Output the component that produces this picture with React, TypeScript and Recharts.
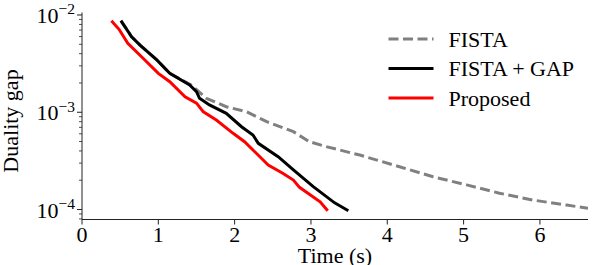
import { LineChart, Line, XAxis, YAxis, Legend } from "recharts";

// Time (s) / duality gap
const fistaTime = [0.51, 0.65, 0.76, 0.98, 1.15, 1.43, 1.63, 1.89, 2.16, 2.42, 2.77, 2.98, 3.2, 3.64, 4.16, 4.6, 5.04, 5.47, 5.91, 6.35, 6.63];
const fistaGap = [8.7e-3, 5.98e-3, 4.91e-3, 3.45e-3, 2.51e-3, 1.91e-3, 1.39e-3, 1.14e-3, 1.01e-3, 8.0e-4, 6.31e-4, 4.98e-4, 4.43e-4, 3.63e-4, 2.75e-4, 2.17e-4, 1.79e-4, 1.47e-4, 1.25e-4, 1.11e-4, 1.03e-4];

const gapTime = [0.51, 0.65, 0.76, 0.98, 1.15, 1.41, 1.5, 1.54, 1.67, 1.89, 2.09, 2.24, 2.31, 2.57, 2.77, 3.03, 3.31, 3.49];
const gapGap = [8.74e-3, 5.98e-3, 4.91e-3, 3.45e-3, 2.51e-3, 1.91e-3, 1.63e-3, 1.39e-3, 1.19e-3, 9.75e-4, 7.1e-4, 5.84e-4, 4.79e-4, 3.49e-4, 2.55e-4, 1.72e-4, 1.17e-4, 9.72e-5];

const propTime = [0.385, 0.485, 0.6, 0.8, 1.0, 1.15, 1.35, 1.5, 1.59, 1.76, 1.98, 2.13, 2.24, 2.33, 2.44, 2.63, 2.77, 2.85, 3.12, 3.22];
const propGap = [8.74e-3, 7.13e-3, 5.12e-3, 3.59e-3, 2.51e-3, 2.06e-3, 1.44e-3, 1.24e-3, 1.01e-3, 8.32e-4, 6.07e-4, 4.98e-4, 4.09e-4, 3.49e-4, 2.87e-4, 2.36e-4, 2.01e-4, 1.69e-4, 1.2e-4, 9.72e-5];

const xTicks = [0, 1, 2, 3, 4, 5, 6];
const xMax = 6.63;
const yDomain = [Math.pow(10, -4.1028), Math.pow(10, -1.9743)];
const decades = [-5, -4, -3, -2];

const yTicks: number[] = [];
decades.forEach((e) => {
  for (let m = 1; m <= 9; m++) {
    const v = m * Math.pow(10, e);
    if (v >= yDomain[0] && v <= yDomain[1]) yTicks.push(v);
  }
});

const toRows = (t: number[], g: number[]) => t.map((x, i) => ({ t: x, gap: g[i] }));
const fistaRows = toRows(fistaTime, fistaGap);
const gapRows = toRows(gapTime, gapGap);
const propRows = toRows(propTime, propGap);

const txt = { fontFamily: '"Liberation Serif", "Times New Roman", serif', fontSize: 22, fill: "#000" };
const AXIS = "#222";

const YTick = (props: any) => {
  const { x, y, payload } = props;
  const lg = Math.log10(payload.value);
  const major = Math.abs(lg - Math.round(lg)) < 1e-6;
  if (!major) {
    return <line x1={x - 3} x2={x} y1={y} y2={y} stroke={AXIS} strokeWidth={0.8} />;
  }
  return (
    <g>
      <line x1={x - 5} x2={x} y1={y} y2={y} stroke={AXIS} strokeWidth={1} />
      <text x={x - 7} y={y + 8} textAnchor="end" style={txt}>
        <tspan>10</tspan>
        <tspan dy={-8.5} style={{ fontSize: 15.5 }}>{"\u2212" + Math.abs(Math.round(lg))}</tspan>
      </text>
    </g>
  );
};

const XTick = (props: any) => {
  const { x, y, payload } = props;
  return (
    <g>
      <line x1={x} x2={x} y1={y} y2={y + 5} stroke={AXIS} strokeWidth={1} />
      <text x={x} y={y + 22} textAnchor="middle" style={txt}>
        {payload.value}
      </text>
    </g>
  );
};

const LegendBox = (props: any) => {
  const { payload } = props;
  return (
    <svg width={598} height={265} style={{ position: "absolute", left: 0, top: 0, pointerEvents: "none" }}>
      {(payload || []).map((entry: any, i: number) => {
        const cy = 39 + i * 29.5;
        return (
          <g key={entry.value}>
            <line
              x1={388.5}
              x2={433.5}
              y1={cy}
              y2={cy}
              stroke={entry.color}
              strokeWidth={3}
              strokeDasharray={entry.payload?.strokeDasharray}
            />
            <text x={448.5} y={cy + 7.5} style={txt}>
              {entry.value}
            </text>
          </g>
        );
      })}
    </svg>
  );
};

export default function App() {
  return (
    <div style={{ position: "absolute", left: 0, top: 0, background: "#fff" }}>
      <LineChart width={598} height={265} margin={{ top: 12.5, right: 10, bottom: 0, left: 0 }}>
        <XAxis
          dataKey="t"
          type="number"
          domain={[0, xMax]}
          ticks={xTicks}
          allowDataOverflow
          height={45.5}
          tickSize={0}
          tickMargin={0}
          tick={<XTick />}
          axisLine={{ stroke: AXIS, strokeWidth: 1 }}
          tickLine={false}
          label={{
            content: (p: any) => {
              const vb = p.viewBox;
              return (
                <text x={vb.x + vb.width / 2} y={vb.y + 43.5} textAnchor="middle" style={txt}>
                  Time (s)
                </text>
              );
            },
          }}
        />
        <XAxis xAxisId="top" orientation="top" type="number" domain={[0, xMax]} height={0} tick={false} tickLine={false} axisLine={{ stroke: AXIS, strokeWidth: 1 }} />
        <YAxis
          type="number"
          scale="log"
          domain={yDomain}
          ticks={yTicks}
          allowDataOverflow
          width={82}
          tickSize={0}
          tickMargin={0}
          tick={<YTick />}
          tickLine={false}
          interval={0}
          axisLine={{ stroke: AXIS, strokeWidth: 1 }}
          label={{
            content: (p: any) => {
              const vb = p.viewBox;
              const cx = 18;
              const cy = vb.y + vb.height / 2 + 5;
              return (
                <text x={cx} y={cy} transform={`rotate(-90 ${cx} ${cy})`} textAnchor="middle" style={txt}>
                  Duality gap
                </text>
              );
            },
          }}
        />
        <YAxis yAxisId="right" orientation="right" type="number" width={0} tick={false} tickLine={false} axisLine={{ stroke: AXIS, strokeWidth: 1 }} />
        <Legend layout="vertical" align="center" verticalAlign="middle" content={<LegendBox />} wrapperStyle={{ left: 0, top: 0, width: 598, height: 265 }} />
        <Line data={fistaRows} dataKey="gap" name="FISTA" stroke="#808080" strokeWidth={3} strokeDasharray="10 4.5" dot={false} type="linear" isAnimationActive={false} />
        <Line data={gapRows} dataKey="gap" name="FISTA + GAP" stroke="#000000" strokeWidth={3} dot={false} type="linear" isAnimationActive={false} />
        <Line data={propRows} dataKey="gap" name="Proposed" stroke="#ff0000" strokeWidth={3} dot={false} type="linear" isAnimationActive={false} />
      </LineChart>
    </div>
  );
}
